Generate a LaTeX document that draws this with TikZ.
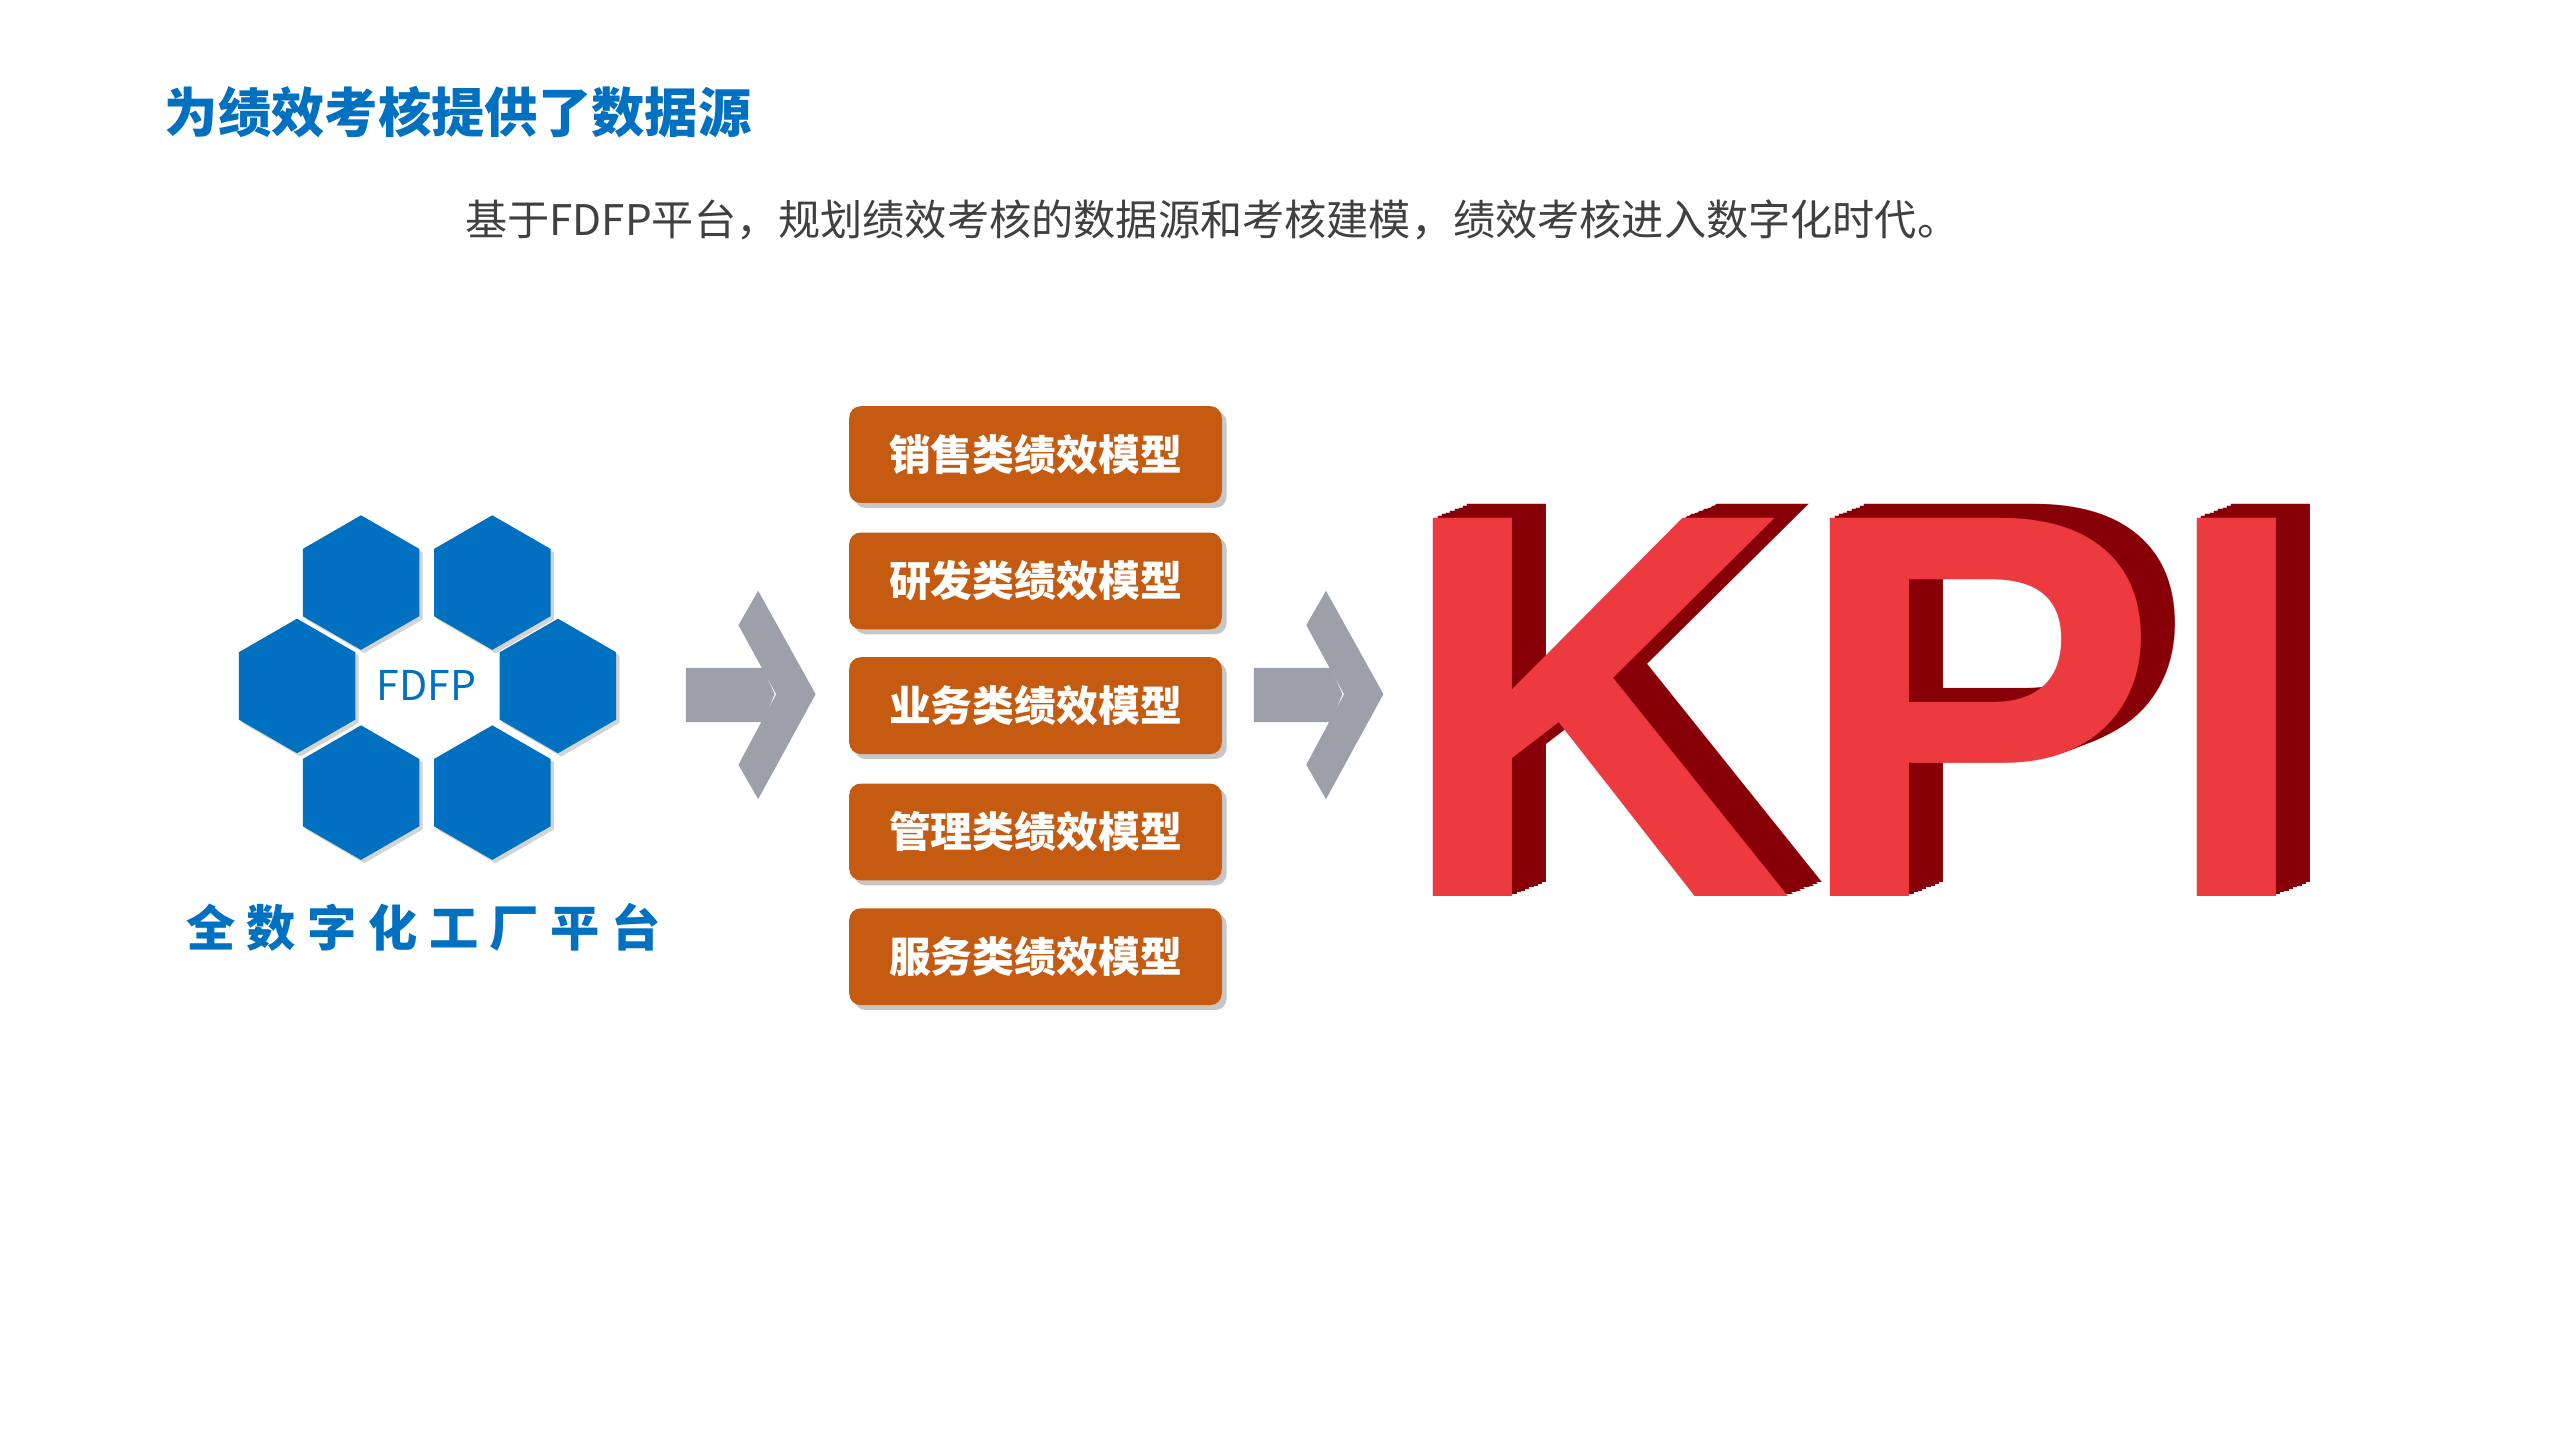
\documentclass[tikz,border=0pt]{standalone}
\usepackage{fontspec}
\setmainfont{Liberation Sans}
\newfontfamily\cjk{Noto Sans CJK SC}
\usetikzlibrary{shapes.geometric,shadows}
\definecolor{fdblue}{HTML}{0070C0}
\definecolor{boxorange}{HTML}{C55A11}
\definecolor{arrowgray}{HTML}{9CA0AB}
\definecolor{kpired}{HTML}{EC3A3E}
\definecolor{kpidark}{HTML}{A00008}
\tikzset{
  hexcell/.style={regular polygon,regular polygon sides=6,shape border rotate=30,
    minimum size=82pt,inner sep=0pt,fill=fdblue,drop shadow={opacity=0.35,shadow xshift=2pt,shadow yshift=-2pt}},
  modelbox/.style={rounded corners=7pt,fill=boxorange,minimum width=227pt,minimum height=59pt,
    text=white,font=\cjk\bfseries\fontsize{25.5}{25.5}\selectfont,
    drop shadow={opacity=0.45,shadow xshift=3pt,shadow yshift=-3pt}},
  kpifont/.style={font=\bfseries\fontsize{335}{335}\selectfont,inner sep=0pt,anchor=base west}
}
\begin{document}
\begin{tikzpicture}[x=1pt,y=-1pt]
  \useasboundingbox (0,0) rectangle (1560,877.5);
  % titles
  \node[anchor=west,text=fdblue,font=\cjk\bfseries\fontsize{32.5}{32.5}\selectfont] (title) at (97,68) {为绩效考核提供了数据源};
  \node[anchor=west,text=black!75,font=\cjk\fontsize{25.7}{25.7}\selectfont] (sub) at (280,134) {基于FDFP平台，规划绩效考核的数据源和考核建模，绩效考核进入数字化时代。};
  % hexagons
  \node[hexcell] (h1) at (220,355) {};
  \node[hexcell] (h2) at (300,355) {};
  \node[hexcell] (h3) at (181,418) {};
  \node[hexcell] (h4) at (340,418) {};
  \node[hexcell] (h5) at (220,483) {};
  \node[hexcell] (h6) at (300,483) {};
  \node[text=fdblue,font=\cjk\fontsize{25}{25}\selectfont] (fdfp) at (260,418) {FDFP};
  \node[text=fdblue,font=\cjk\bfseries\fontsize{30}{30}\selectfont] (platform) at (258,565)
    {全\hspace{7pt}数\hspace{7pt}字\hspace{7pt}化\hspace{7pt}工\hspace{7pt}厂\hspace{7pt}平\hspace{7pt}台};
  % arrows
  \foreach \dx/\nm in {0/arrowA,346/arrowB}{
    \begin{scope}[xshift=\dx]
      \fill[arrowgray] (418,407) -- (465,407) -- (472,423) -- (465,440) -- (418,440) -- cycle;
      \fill[arrowgray] (450,381) -- (462,360) -- (497,423) -- (462,487) -- (450,466) -- (473,423) -- cycle;
      \coordinate (\nm) at (458,423);
    \end{scope}
  }
  % model boxes
  \foreach \y/\txt in {277/销售类绩效模型,354/研发类绩效模型,430/业务类绩效模型,507/管理类绩效模型,583/服务类绩效模型}
    \node[modelbox] (m\y) at (631,\y) {\txt};
  % KPI
  \foreach \i in {1,...,8}
    \node[kpifont,text=kpidark!85!black] (kpiback) at (851+\i*2.6,546-\i*1) {KPI};
  \node[kpifont,text=kpired] (kpi) at (851,546) {KPI};
\end{tikzpicture}
\end{document}
